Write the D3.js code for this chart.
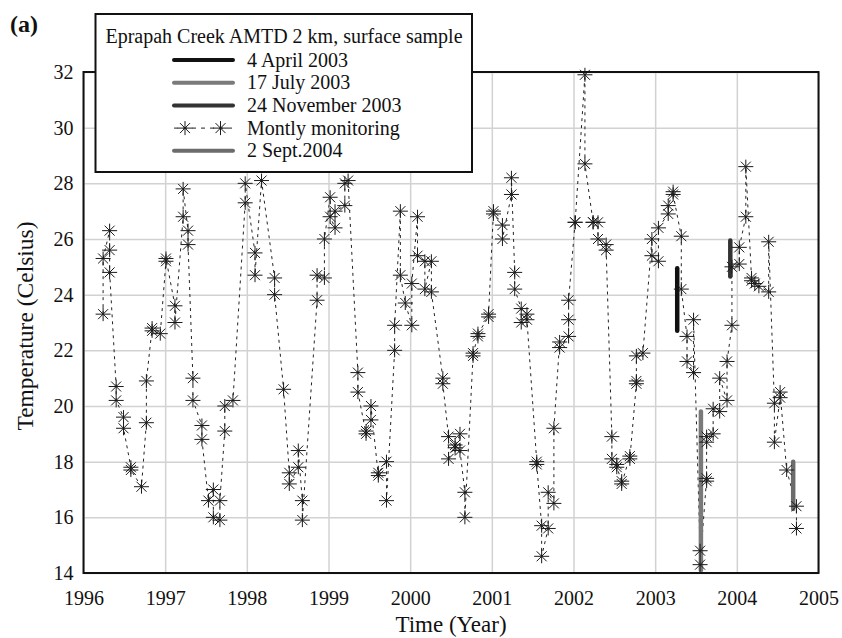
<!DOCTYPE html>
<html>
<head>
<meta charset="utf-8">
<script src="https://cdn.jsdelivr.net/npm/d3@7"></script>
<style>
  body { margin: 0; background: #fff; }
  svg, svg text { font-family: "Liberation Serif", "Times New Roman", serif; }
  .grid line { stroke: #d2d2d2; stroke-width: 1.5; }
  .grid path { display: none; }
  .tick-label text { font-size: 20px; fill: #111; font-family: "Liberation Serif", "Times New Roman", serif; }
  .tick-label path { display: none; }
</style>
</head>
<body>
<div id="chart"></div>
<script>
// monthly monitoring: decimal year / temperature (Celsius)
var monthlyYears = [
    1996.24, 1996.24, 1996.32, 1996.32, 1996.32, 1996.40, 1996.40, 1996.49, 1996.49, 1996.58,
    1996.58, 1996.71, 1996.77, 1996.77, 1996.84, 1996.84, 1996.94, 1997.01, 1997.01, 1997.12,
    1997.12, 1997.22, 1997.22, 1997.28, 1997.28, 1997.34, 1997.34, 1997.45, 1997.45, 1997.53,
    1997.59, 1997.59, 1997.67, 1997.67, 1997.73, 1997.73, 1997.83, 1997.98, 1997.98, 1998.10,
    1998.10, 1998.18, 1998.34, 1998.34, 1998.45, 1998.52, 1998.52, 1998.63, 1998.63, 1998.68,
    1998.68, 1998.86, 1998.86, 1998.95, 1998.95, 1999.02, 1999.02, 1999.08, 1999.08, 1999.20,
    1999.20, 1999.24, 1999.36, 1999.36, 1999.46, 1999.46, 1999.52, 1999.52, 1999.61, 1999.61,
    1999.71, 1999.71, 1999.81, 1999.81, 1999.88, 1999.88, 1999.94, 2000.02, 2000.02, 2000.09,
    2000.09, 2000.18, 2000.18, 2000.26, 2000.26, 2000.40, 2000.40, 2000.47, 2000.47, 2000.55,
    2000.55, 2000.61, 2000.61, 2000.67, 2000.67, 2000.77, 2000.77, 2000.83, 2000.83, 2000.96,
    2000.96, 2001.02, 2001.02, 2001.13, 2001.13, 2001.24, 2001.24, 2001.28, 2001.28, 2001.36,
    2001.36, 2001.43, 2001.43, 2001.55, 2001.55, 2001.61, 2001.61, 2001.69, 2001.69, 2001.76,
    2001.76, 2001.83, 2001.83, 2001.94, 2001.94, 2001.94, 2002.02, 2002.02, 2002.14, 2002.14,
    2002.24, 2002.24, 2002.30, 2002.30, 2002.40, 2002.40, 2002.47, 2002.47, 2002.53, 2002.53,
    2002.59, 2002.59, 2002.69, 2002.69, 2002.77, 2002.77, 2002.77, 2002.85, 2002.96, 2002.96,
    2003.04, 2003.04, 2003.16, 2003.16, 2003.22, 2003.22, 2003.32, 2003.32, 2003.39, 2003.39,
    2003.47, 2003.47, 2003.55, 2003.55, 2003.63, 2003.63, 2003.63, 2003.63, 2003.71, 2003.71,
    2003.79, 2003.79, 2003.88, 2003.88, 2003.94, 2003.94, 2004.03, 2004.03, 2004.11, 2004.11,
    2004.18, 2004.18, 2004.22, 2004.27, 2004.39, 2004.39, 2004.46, 2004.46, 2004.53, 2004.53,
    2004.61, 2004.73, 2004.73
];
var monthlyTemps = [
    23.3, 25.3, 26.3, 25.6, 24.8, 20.7, 20.2, 19.6, 19.2, 17.8,
    17.7, 17.1, 19.4, 20.9, 22.8, 22.7, 22.6, 25.2, 25.3, 23.6,
    23.0, 26.8, 27.8, 26.3, 25.8, 21.0, 20.2, 19.3, 18.8, 16.6,
    17.0, 16.0, 15.9, 16.6, 19.1, 20.0, 20.2, 27.3, 28.0, 25.5,
    24.7, 28.1, 24.6, 24.0, 20.6, 17.6, 17.2, 17.8, 18.4, 16.6,
    15.9, 23.8, 24.7, 24.6, 26.0, 27.5, 26.8, 26.4, 27.0, 27.2,
    28.0, 28.1, 21.2, 20.5, 19.0, 19.1, 19.5, 20.0, 17.5, 17.6,
    18.0, 16.6, 22.0, 22.9, 27.0, 24.7, 23.7, 22.9, 24.4, 26.8,
    25.4, 25.2, 24.2, 25.2, 24.1, 21.0, 20.8, 18.9, 18.1, 18.6,
    18.5, 19.0, 18.4, 16.9, 16.0, 21.8, 21.9, 22.5, 22.6, 23.2,
    23.3, 27.0, 26.9, 26.5, 26.0, 27.6, 28.2, 24.8, 24.2, 23.5,
    23.0, 23.3, 23.1, 18.0, 17.9, 15.7, 14.6, 15.6, 16.9, 16.5,
    19.2, 22.3, 22.1, 22.5, 23.1, 23.8, 26.6, 26.6, 31.9, 28.7,
    26.6, 26.6, 26.6, 26.0, 25.8, 25.6, 18.9, 18.1, 17.9, 17.8,
    17.3, 17.2, 18.2, 18.1, 20.8, 20.9, 21.8, 21.9, 26.0, 25.4,
    25.2, 26.4, 26.9, 27.2, 27.7, 27.6, 26.1, 24.2, 22.5, 21.6,
    21.2, 23.1, 14.8, 14.3, 17.4, 17.3, 18.7, 18.9, 19.0, 19.9,
    19.8, 21.0, 20.2, 21.6, 22.9, 25.0, 25.1, 25.7, 26.8, 28.6,
    24.6, 24.5, 24.4, 24.3, 24.1, 25.9, 20.1, 18.7, 20.3, 20.5,
    17.7, 16.4, 15.6
];

// field surveys (one short record each)
var surveyNames = ['4 April 2003', '17 July 2003', '24 November 2003', '2 Sept.2004'];
var surveyYears = [2003.27, 2003.56, 2003.92, 2004.69];
var surveyTemps = [[24.95, 23.8, 22.7], [19.8, 17.0, 14.1], [25.95, 25.3, 24.65], [18.0, 17.1, 16.3]];
var surveyColours = ['#111111', '#7a7a7a', '#333333', '#6c6c6c'];

var yearTicks = d3.range(1996, 2006);
var tempTicks = d3.range(14, 33, 2);

var width = 842, height = 638;
var plotLeft = 83.5, plotRight = 818.5, plotTop = 72, plotBottom = 573;

var svg = d3.select('#chart')
    .append('svg')
    .attr('width', width)
    .attr('height', height);

var x = d3.scaleLinear().domain([1996, 2005]).range([plotLeft, plotRight]);
var y = d3.scaleLinear().domain([14, 32]).range([plotBottom, plotTop]);

// grid
svg.append('g')
    .attr('class', 'grid')
    .attr('transform', 'translate(0,' + plotBottom + ')')
    .call(d3.axisBottom(x).tickValues(yearTicks).tickSize(-(plotBottom - plotTop)).tickFormat(''));
svg.append('g')
    .attr('class', 'grid')
    .attr('transform', 'translate(' + plotLeft + ',0)')
    .call(d3.axisLeft(y).tickValues(tempTicks).tickSize(-(plotRight - plotLeft)).tickFormat(''));

// tick labels
svg.append('g')
    .attr('class', 'tick-label')
    .attr('transform', 'translate(0,' + plotBottom + ')')
    .call(d3.axisBottom(x).tickValues(yearTicks).tickSize(0).tickPadding(18).tickFormat(d3.format('d')))
    .attr('font-family', null)
    .attr('font-size', null);
svg.append('g')
    .attr('class', 'tick-label')
    .attr('transform', 'translate(' + plotLeft + ',0)')
    .call(d3.axisLeft(y).tickValues(tempTicks).tickSize(0).tickPadding(10))
    .attr('font-family', null)
    .attr('font-size', null);

var monthly = monthlyYears.map(function(t, i) { return [t, monthlyTemps[i]]; });

var line = d3.line()
    .x(function(d) { return x(d[0]); })
    .y(function(d) { return y(d[1]); });

svg.append('path')
    .datum(monthly)
    .attr('d', line)
    .attr('fill', 'none')
    .attr('stroke', '#222')
    .attr('stroke-width', 1)
    .attr('stroke-dasharray', '3,4');

// survey profiles
surveyYears.forEach(function(t, i) {
    svg.append('path')
        .datum(surveyTemps[i].map(function(v) { return [t, v]; }))
        .attr('d', line)
        .attr('fill', 'none')
        .attr('stroke', surveyColours[i])
        .attr('stroke-width', 4.5)
        .attr('stroke-linecap', 'round');
});

var star = 'M0,-7V7M-7.5,0H7.5M-5,-5L5,5M-5,5L5,-5';

svg.append('g')
    .selectAll('path')
    .data(monthly)
    .enter()
    .append('path')
    .attr('transform', function(d) { return 'translate(' + x(d[0]) + ',' + y(d[1]) + ')'; })
    .attr('d', star)
    .attr('fill', 'none')
    .attr('stroke', '#1a1a1a')
    .attr('stroke-width', 1);

// frame
svg.append('rect')
    .attr('x', plotLeft)
    .attr('y', plotTop)
    .attr('width', plotRight - plotLeft)
    .attr('height', plotBottom - plotTop)
    .attr('fill', 'none')
    .attr('stroke', '#111')
    .attr('stroke-width', 2);

// axis titles
svg.append('text')
    .attr('x', (plotLeft + plotRight) / 2)
    .attr('y', 632)
    .attr('text-anchor', 'middle')
    .attr('font-size', 23)
    .attr('fill', '#111')
    .text('Time (Year)');

svg.append('text')
    .attr('transform', 'translate(33,326) rotate(-90)')
    .attr('text-anchor', 'middle')
    .attr('font-size', 23.5)
    .attr('fill', '#111')
    .text('Temperature (Celsius)');

svg.append('text')
    .attr('x', 10)
    .attr('y', 32)
    .attr('font-size', 24)
    .attr('font-weight', 'bold')
    .attr('fill', '#111')
    .text('(a)');

// legend
var legend = svg.append('g');
legend.append('rect')
    .attr('x', 95.5)
    .attr('y', 14)
    .attr('width', 376.5)
    .attr('height', 158)
    .attr('fill', '#fff')
    .attr('stroke', '#111')
    .attr('stroke-width', 2);

legend.append('text')
    .attr('x', 284)
    .attr('y', 43)
    .attr('text-anchor', 'middle')
    .attr('font-size', 20)
    .attr('fill', '#111')
    .text('Eprapah Creek AMTD 2 km, surface sample');

var legendItems = [
    { label: surveyNames[0], colour: surveyColours[0] },
    { label: surveyNames[1], colour: surveyColours[1] },
    { label: surveyNames[2], colour: surveyColours[2] },
    { label: 'Montly monitoring', marker: true },
    { label: surveyNames[3], colour: surveyColours[3] }
];

legendItems.forEach(function(item, i) {
    var ly = 60 + i * 22.7;
    if (item.marker) {
        legend.append('line')
            .attr('x1', 174).attr('x2', 233)
            .attr('y1', ly).attr('y2', ly)
            .attr('stroke', '#222')
            .attr('stroke-width', 1)
            .attr('stroke-dasharray', '4,5');
        [185, 220.5].forEach(function(mx) {
            legend.append('path')
                .attr('transform', 'translate(' + mx + ',' + ly + ')')
                .attr('d', star)
                .attr('fill', 'none')
                .attr('stroke', '#1a1a1a')
                .attr('stroke-width', 1);
        });
    } else {
        legend.append('line')
            .attr('x1', 174).attr('x2', 233)
            .attr('y1', ly).attr('y2', ly)
            .attr('stroke', item.colour)
            .attr('stroke-width', 4)
            .attr('stroke-linecap', 'round');
    }
    legend.append('text')
        .attr('x', 247)
        .attr('y', ly)
        .attr('dy', '0.33em')
        .attr('font-size', 20)
        .attr('fill', '#111')
        .text(item.label);
});
</script>
</body>
</html>
